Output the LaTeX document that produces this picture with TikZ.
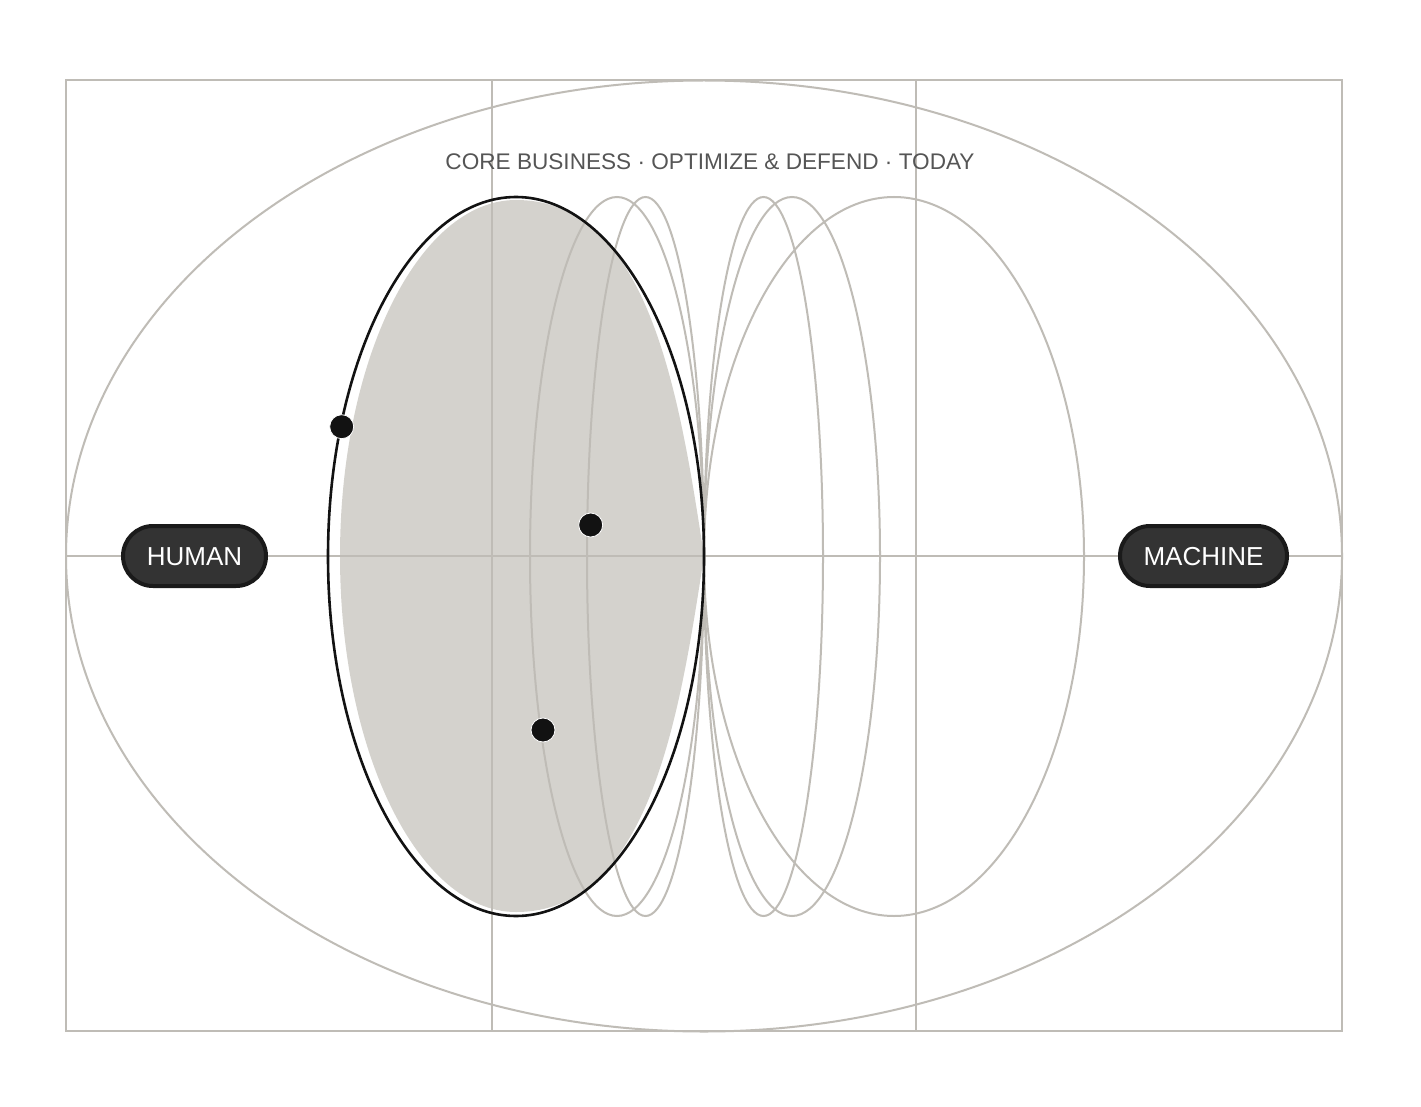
\documentclass[tikz,border=0pt]{standalone}
\usepackage{fontspec}
\setmainfont{Liberation Sans}
\definecolor{gridgrey}{HTML}{BFBCB6}
\definecolor{fillgrey}{HTML}{D4D2CD}
\definecolor{inkblack}{HTML}{121212}
\definecolor{pillfill}{HTML}{333333}
\definecolor{pillline}{HTML}{1A1A1A}
\definecolor{titlegrey}{HTML}{555555}
\tikzset{
  gridline/.style={draw=gridgrey, line width=2pt},
  ringline/.style={draw=gridgrey, line width=2pt},
  mainring/.style={draw=inkblack, line width=2.6pt},
  dotnode/.style={circle, fill=inkblack, draw=white, line width=0.8pt, minimum size=24pt, inner sep=0pt},
  pill/.style={rectangle, rounded corners=30pt, fill=pillfill, draw=pillline, line width=4pt,
    minimum height=60pt, inner sep=0pt, text=white, font=\fontsize{26}{30}\selectfont,
    text height=18.6pt, text depth=0pt},
  titletext/.style={text=titlegrey, font=\fontsize{22.6}{26}\selectfont, inner sep=0pt}
}
\begin{document}
\begin{tikzpicture}[x=1pt,y=-1pt]
\useasboundingbox[fill=white] (0,0) rectangle (1421,1107);
% grey filled blob
\fill[fillgrey] (516,200) .. controls (650,200) and (680,400) .. (704,556)
  .. controls (680,712) and (650,912) .. (516,912)
  .. controls (418.8,912) and (340,752.6) .. (340,556)
  .. controls (340,359.4) and (418.8,200) .. (516,200) -- cycle;
% grid
\draw[gridline] (66,80) rectangle (1342,1031);
\coordinate (vt1) at (492,80);  \coordinate (vb1) at (492,1031);
\coordinate (vt2) at (916,80);  \coordinate (vb2) at (916,1031);
\coordinate (hl) at (66,556);   \coordinate (hr) at (1342,556);
\draw[gridline] (vt1) -- (vb1);
\draw[gridline] (vt2) -- (vb2);
\draw[gridline] (hl) -- (hr);
% big ellipse
\draw[ringline] (704,556) ellipse [x radius=638, y radius=475.5];
% grey ellipses
\draw[ringline] (617,556.5) ellipse [x radius=87, y radius=359.5];
\draw[ringline] (645.5,556.5) ellipse [x radius=58.5, y radius=359.5];
\draw[ringline] (763.5,556.5) ellipse [x radius=59.5, y radius=359.5];
\draw[ringline] (792,556.5) ellipse [x radius=88, y radius=359.5];
\draw[ringline] (894,556.5) ellipse [x radius=190, y radius=359.5];
% black ellipse
\draw[mainring] (516,556.5) ellipse [x radius=188, y radius=359.5];
% dots
\node[dotnode] (d1) at (341.7,426.7) {};
\node[dotnode] (d2) at (590.7,525) {};
\node[dotnode] (d3) at (543,730) {};
% pills
\node[pill, minimum width=143pt] (human) at (194.5,556) {HUMAN};
\node[pill, minimum width=167pt] (machine) at (1203.5,556) {MACHINE};
% title
\node[titletext, anchor=base] (title) at (710,169.5) {CORE BUSINESS · OPTIMIZE \& DEFEND · TODAY};
\end{tikzpicture}
\end{document}
